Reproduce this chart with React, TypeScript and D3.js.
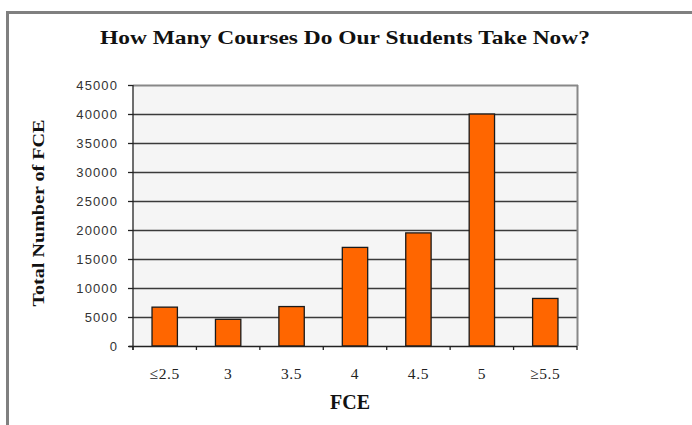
import React, { useEffect, useRef } from "react";
import * as d3 from "d3";

const categories = ["≤2.5", "3", "3.5", "4", "4.5", "5", "≥5.5"];
const values = [6700, 4600, 6800, 17000, 19500, 40000, 8200];
const yTicks = [0, 5000, 10000, 15000, 20000, 25000, 30000, 35000, 40000, 45000];

const W = 692;
const H = 425;
const M = { left: 133, right: 577, top: 85, bottom: 346 };

export default function App() {
  const ref = useRef<SVGSVGElement>(null);
  useEffect(() => {
    const svg = d3.select(ref.current);
    svg.selectAll("*").remove();

    const x = d3.scaleBand().domain(categories).range([M.left, M.right]).paddingInner(0.6).paddingOuter(0.3);
    const xb = d3.scaleBand().domain(categories).range([M.left, M.right]);
    const y = d3.scaleLinear().domain([0, 45000]).range([M.bottom, M.top]);

    // outer frame
    svg.append("line").attr("x1", 6).attr("x2", W).attr("y1", 12.5).attr("y2", 12.5).attr("stroke", "#808080").attr("stroke-width", 3);
    svg.append("line").attr("x1", 7.5).attr("x2", 7.5).attr("y1", 11).attr("y2", H).attr("stroke", "#808080").attr("stroke-width", 3);

    // plot background
    svg.append("rect").attr("x", M.left).attr("y", M.top).attr("width", M.right - M.left).attr("height", M.bottom - M.top).attr("fill", "#f5f5f5");

    // gridlines
    svg.append("g").selectAll("line").data(yTicks.filter(t => t > 0 && t < 45000)).join("line")
      .attr("x1", M.left).attr("x2", M.right)
      .attr("y1", d => Math.round(y(d)) + 0.5).attr("y2", d => Math.round(y(d)) + 0.5)
      .attr("stroke", "#3a3a3a").attr("stroke-width", 1.4);
    // top and right border
    svg.append("line").attr("x1", M.left).attr("x2", M.right + 1).attr("y1", M.top + 0.5).attr("y2", M.top + 0.5).attr("stroke", "#888").attr("stroke-width", 2);
    svg.append("line").attr("x1", M.right + 0.5).attr("x2", M.right + 0.5).attr("y1", M.top).attr("y2", M.bottom).attr("stroke", "#888").attr("stroke-width", 2);

    // bars
    svg.append("g").selectAll("rect").data(values).join("rect")
      .attr("x", (d, i) => x(categories[i])!)
      .attr("y", d => y(d))
      .attr("width", x.bandwidth())
      .attr("height", d => y(0) - y(d))
      .attr("fill", "#ff6600").attr("stroke", "#1a1a1a").attr("stroke-width", 1.3);

    // y axis
    const ya = svg.append("g").attr("transform", `translate(${M.left},0)`)
      .call(d3.axisLeft(y).tickValues(yTicks).tickSize(5).tickPadding(10).tickSizeOuter(0).tickFormat(d3.format("d")));
    ya.select(".domain").attr("stroke", "#222").attr("stroke-width", 1.3).attr("d", `M0,${M.top}V${M.bottom + 4}`);
    ya.selectAll(".tick line").attr("stroke", "#222").attr("stroke-width", 1.3);
    ya.selectAll(".tick text").attr("font-family", "Liberation Sans, Arial, sans-serif").attr("font-size", 13).attr("fill", "#333").attr("letter-spacing", 1.1);

    // x axis
    const xg = svg.append("g");
    xg.append("line").attr("x1", M.left - 4).attr("x2", M.right).attr("y1", M.bottom + 0.5).attr("y2", M.bottom + 0.5).attr("stroke", "#222").attr("stroke-width", 1.3);
    const bounds = categories.map(c => xb(c)!).concat([M.right]);
    xg.selectAll("line.tk").data(bounds).join("line").attr("class", "tk")
      .attr("x1", d => d).attr("x2", d => d).attr("y1", M.bottom).attr("y2", M.bottom + 4)
      .attr("stroke", "#222").attr("stroke-width", 1.3);
    xg.selectAll("text").data(categories).join("text")
      .attr("x", d => xb(d)! + xb.bandwidth() / 2).attr("y", 379)
      .attr("text-anchor", "middle").attr("font-family", "Liberation Serif, Times New Roman, serif")
      .attr("font-size", 15.5).attr("letter-spacing", 0.6).attr("fill", "#222").text(d => d);

    // titles
    svg.append("text").attr("x", 345).attr("y", 44).attr("text-anchor", "middle")
      .attr("font-family", "Liberation Serif, Times New Roman, serif").attr("font-weight", "bold").attr("font-size", 19.5)
      .attr("textLength", 490).attr("lengthAdjust", "spacingAndGlyphs").attr("fill", "#111")
      .text("How Many Courses Do Our Students Take Now?");
    svg.append("text").attr("x", 350).attr("y", 409).attr("text-anchor", "middle")
      .attr("font-family", "Liberation Serif, Times New Roman, serif").attr("font-weight", "bold").attr("font-size", 20)
      .attr("fill", "#111").text("FCE");
    svg.append("text").attr("transform", `translate(44,213) rotate(-90)`).attr("text-anchor", "middle")
      .attr("font-family", "Liberation Serif, Times New Roman, serif").attr("font-weight", "bold").attr("font-size", 16)
      .attr("textLength", 187).attr("lengthAdjust", "spacingAndGlyphs").attr("fill", "#111")
      .text("Total Number of FCE");
  }, []);
  return (
    <svg ref={ref} width={W} height={H} style={{ position: "absolute", left: 0, top: 0, background: "#fff" }} />
  );
}
